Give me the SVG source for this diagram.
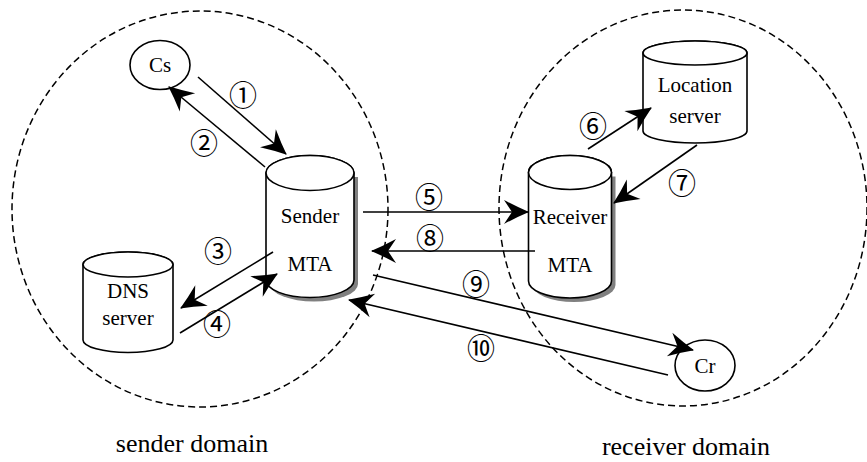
<svg xmlns="http://www.w3.org/2000/svg" width="867" height="462" viewBox="0 0 867 462">
<defs>
<style>
.dom{fill:none;stroke:#000;stroke-width:1.5;stroke-dasharray:7,4}
.shape{fill:#fff;stroke:#000;stroke-width:1.6}
.shadow{fill:#808080;stroke:none}
.lbl{font-family:"Liberation Serif","Times New Roman",serif;font-size:21px;fill:#000;text-anchor:middle}
.big{font-size:26px}
.num{font-family:"Noto Sans CJK SC","DejaVu Sans",sans-serif;font-size:28px;fill:#000;text-anchor:middle;dominant-baseline:central}
.conn line{stroke:#000;stroke-width:1.6;fill:none}
.arr{marker-end:url(#ah)}
</style>
<marker id="ah" markerUnits="userSpaceOnUse" markerWidth="30" markerHeight="28" viewBox="-26 -14 30 28" refX="0" refY="0" orient="auto">
<path d="M1,0 Q-11,-5 -24,-12 L-16,0 L-24,12 Q-11,5 1,0 Z" fill="#000"/>
</marker>
</defs>

<g id="sender-domain">
<ellipse class="dom" cx="200" cy="209" rx="188" ry="198"/>
<text class="lbl big" x="192" y="452">sender domain</text>
</g>
<g id="receiver-domain">
<ellipse class="dom" cx="683" cy="208" rx="184" ry="198"/>
<text class="lbl big" x="686" y="455">receiver domain</text>
</g>

<g id="cs">
<ellipse class="shape" cx="160" cy="65" rx="30" ry="24.5"/>
<text class="lbl" x="160" y="72">Cs</text>
</g>

<g id="sender-mta">
<path class="shadow" d="M270,177 L270,284 A44,17.5 0 0 0 358,284 L358,177 Z"/>
<path class="shape" d="M266,173 L266,280 A44,17.5 0 0 0 354,280 L354,173 A44,17.5 0 0 0 266,173 Z"/>
<ellipse class="shape" cx="310" cy="173" rx="44" ry="17.5"/>
<text class="lbl" x="310" y="223">Sender</text>
<text class="lbl" x="310" y="271">MTA</text>
</g>

<g id="dns-server">
<path class="shape" d="M83,264.5 L83,340 A45,12.5 0 0 0 173,340 L173,264.5 A45,12.5 0 0 0 83,264.5 Z"/>
<ellipse class="shape" cx="128" cy="264.5" rx="45" ry="12.5"/>
<text class="lbl" x="128" y="298">DNS</text>
<text class="lbl" x="128" y="325">server</text>
</g>

<g id="location-server">
<path class="shape" d="M643,53 L643,131 A52,12 0 0 0 747,131 L747,53 A52,12 0 0 0 643,53 Z"/>
<ellipse class="shape" cx="695" cy="53" rx="52" ry="12"/>
<text class="lbl" x="695" y="92">Location</text>
<text class="lbl" x="695" y="123">server</text>
</g>

<g id="receiver-mta">
<path class="shadow" d="M532.5,176.5 L532.5,285 A41.5,17 0 0 0 615.5,285 L615.5,176.5 Z"/>
<path class="shape" d="M528.5,172.5 L528.5,281 A41.5,17 0 0 0 611.5,281 L611.5,172.5 A41.5,17 0 0 0 528.5,172.5 Z"/>
<ellipse class="shape" cx="570" cy="172.5" rx="41.5" ry="17"/>
<text class="lbl" x="570" y="224">Receiver</text>
<text class="lbl" x="570" y="272">MTA</text>
</g>

<g id="cr">
<ellipse class="shape" cx="705" cy="365.5" rx="30" ry="25.5"/>
<text class="lbl" x="705" y="373">Cr</text>
</g>

<g id="connectors" class="conn">
<line class="arr" x1="198" y1="77" x2="286" y2="154"/>
<line class="arr" x1="265" y1="167" x2="169" y2="87"/>
<line class="arr" x1="273" y1="252" x2="181" y2="308"/>
<line class="arr" x1="180" y1="333" x2="277" y2="274"/>
<line class="arr" x1="363" y1="212" x2="528" y2="212"/>
<line class="arr" x1="535" y1="251" x2="372" y2="251"/>
<line class="arr" x1="373" y1="275" x2="693" y2="350"/>
<line class="arr" x1="668" y1="375" x2="349" y2="300"/>
<line class="arr" x1="588" y1="149" x2="651" y2="108"/>
<line class="arr" x1="697" y1="145" x2="614" y2="203"/>
</g>

<g id="labels">
<text class="num" x="243" y="94">①</text>
<text class="num" x="204" y="142">②</text>
<text class="num" x="218" y="250">③</text>
<text class="num" x="217" y="323">④</text>
<text class="num" x="429" y="196">⑤</text>
<text class="num" x="593" y="125">⑥</text>
<text class="num" x="682" y="182">⑦</text>
<text class="num" x="430" y="237">⑧</text>
<text class="num" x="476" y="283">⑨</text>
<text class="num" x="481" y="347">⑩</text>
</g>
</svg>
